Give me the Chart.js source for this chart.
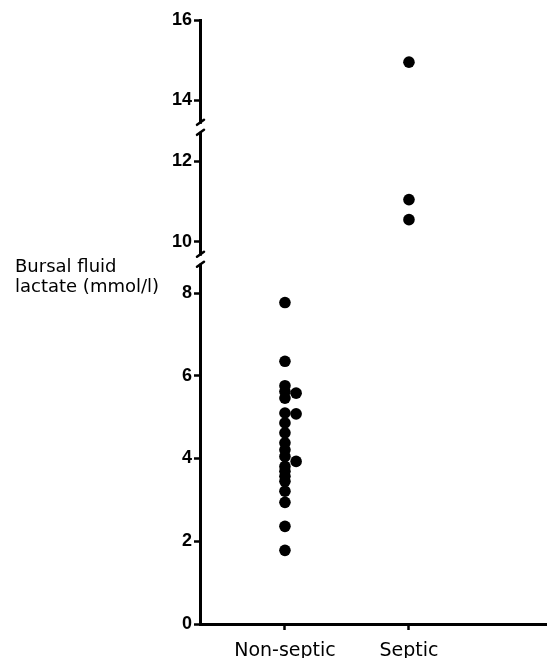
<!DOCTYPE html>
<html>
<head>
<meta charset="utf-8">
<script src="https://cdn.jsdelivr.net/npm/chart.js@4"></script>
<style>
  html, body { margin: 0; padding: 0; background: #fff; }
  #wrap { width: 547px; height: 658px; }
</style>
</head>
<body>
<div id="wrap"><canvas id="chart" width="547" height="658"></canvas></div>
<script>
// Datos
const categories = ['Non-septic', 'Septic']
const nonSeptic = [7.77, 6.35, 5.76, 5.62, 5.46, 5.10, 4.86, 4.62, 4.38, 4.21, 4.05, 3.81, 3.69, 3.57, 3.45, 3.21, 2.94, 2.36, 1.78]
const nonSepticSide = [5.58, 5.08, 3.93]   // puntos desplazados a la derecha
const septic = [14.95, 11.05, 10.55]
const yTicks = [0, 2, 4, 6, 8, 10, 12, 14, 16]
const yBreaks = [9.3, 13.1]
const yLabel = ['Bursal fluid', 'lactate (mmol/l)']

// Eje y cortado: valor real -> posición en el eje comprimido
const axisKnots = [[0, 0], [8, 8], [10, 9.24], [12, 11.18], [14, 12.66], [16, 14.6]]
function toAxis(v) {
  for (let i = 1; i < axisKnots.length; i++) {
    const [r0, d0] = axisKnots[i - 1]
    const [r1, d1] = axisKnots[i]
    if (v <= r1) return d0 + (v - r0) * (d1 - d0) / (r1 - r0)
  }
  return axisKnots[axisKnots.length - 1][1]
}

const sideShift = 0.09

// Marcas de corte en el eje y
const breakMarks = {
  id: 'breakMarks',
  afterDraw(chart) {
    const ctx = chart.ctx
    const x = chart.scales.x.left
    yBreaks.forEach(b => {
      const p = chart.scales.y.getPixelForValue(toAxis(b))
      ctx.save()
      ctx.fillStyle = '#fff'
      ctx.fillRect(x - 4, p - 4, 8, 8)
      ctx.strokeStyle = '#000'
      ctx.lineWidth = 2.5
      ctx.lineCap = 'round'
      ctx.beginPath()
      ctx.moveTo(x - 3, p - 3)
      ctx.lineTo(x + 4, p - 8)
      ctx.moveTo(x - 3, p + 7)
      ctx.lineTo(x + 4, p + 2)
      ctx.stroke()
      ctx.restore()
    })
  }
}

// Título horizontal del eje y
const yTitle = {
  id: 'yTitle',
  afterDraw(chart) {
    const ctx = chart.ctx
    ctx.save()
    ctx.fillStyle = '#000'
    ctx.font = '18px "DejaVu Sans"'
    ctx.textBaseline = 'alphabetic'
    ctx.fillText(yLabel[0], 15, 272)
    ctx.fillText(yLabel[1], 15, 292)
    ctx.restore()
  }
}

const points = [
  ...nonSeptic.map(v => ({ x: 1, y: toAxis(v) })),
  ...nonSepticSide.map(v => ({ x: 1 + sideShift, y: toAxis(v) })),
  ...septic.map(v => ({ x: 2, y: toAxis(v) }))
]

new Chart(document.getElementById('chart'), {
  type: 'scatter',
  data: {
    datasets: [{
      data: points,
      pointRadius: 5.8,
      pointHoverRadius: 5.8,
      backgroundColor: '#000',
      borderColor: '#000',
      borderWidth: 0
    }]
  },
  options: {
    responsive: false,
    animation: false,
    events: [],
    layout: { autoPadding: false, padding: { top: 20, left: 0, right: 0, bottom: 0 } },
    plugins: { legend: { display: false }, tooltip: { enabled: false } },
    scales: {
      x: {
        type: 'linear',
        min: 0.315,
        max: 3.113,
        afterBuildTicks: scale => { scale.ticks = [{ value: 1 }, { value: 2 }] },
        afterFit: scale => {
          scale.height = 34
          scale.paddingLeft = 0
          scale.paddingRight = 0
        },
        ticks: {
          callback: (v, i) => categories[i],
          color: '#000',
          font: { family: 'DejaVu Sans', size: 19 },
          padding: 10,
          maxRotation: 0
        },
        grid: { drawOnChartArea: false, tickLength: 6, tickColor: '#000', tickWidth: 2.5 },
        border: { color: '#000', width: 3 }
      },
      y: {
        type: 'linear',
        min: 0,
        max: 14.6,
        afterBuildTicks: scale => { scale.ticks = yTicks.map(v => ({ value: toAxis(v) })) },
        afterFit: scale => { scale.width = 200 },
        ticks: {
          callback: (v, i) => yTicks[i],
          color: '#000',
          font: { family: 'Liberation Sans', size: 18, weight: 'bold' },
          padding: 2
        },
        grid: { drawOnChartArea: false, tickLength: 6, tickColor: '#000', tickWidth: 2.5 },
        border: { color: '#000', width: 3 }
      }
    }
  },
  plugins: [breakMarks, yTitle]
})
</script>
</body>
</html>
